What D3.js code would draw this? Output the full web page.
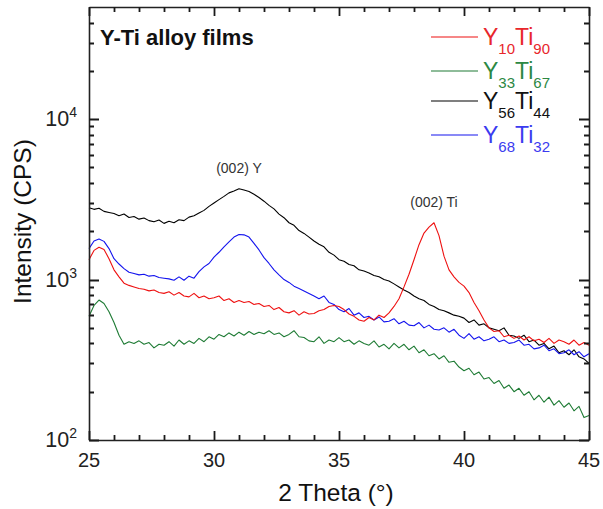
<!DOCTYPE html>
<html>
<head>
<meta charset="utf-8">
<script src="https://cdn.jsdelivr.net/npm/d3@7"></script>
<style>
  body { margin: 0; background: #fff; }
  svg { display: block; font-family: Arial, "Liberation Sans", sans-serif; }
  .axis path { stroke: #222; stroke-width: 1.6; }
</style>
</head>
<body>
<svg id="chart" width="603" height="509"></svg>
<script>
// scan angles, 0.2 deg step from 25 to 45
const twoTheta = d3.range(101).map(i => +(25 + i * 0.2).toFixed(1));

const y10ti90 = [
  1330, 1520, 1590, 1540, 1350, 1150, 1040, 950, 920, 900,
  880, 870, 850, 860, 830, 820, 840, 800, 830, 790,
  780, 820, 770, 790, 760, 770, 790, 740, 760, 720,
  740, 720, 730, 700, 710, 680, 690, 650, 670, 630,
  620, 640, 600, 630, 610, 615, 640, 650, 680, 690,
  680, 650, 610, 590, 560, 550, 580, 560, 600, 580,
  620, 680, 760, 900, 1080, 1330, 1650, 1950, 2120, 2260,
  1880, 1400, 1150, 1040, 960, 910, 830, 720, 640, 560,
  500, 475, 480, 440, 450, 430, 445, 420, 440, 415,
  425, 405, 430, 400, 420, 410, 395, 420, 390, 405,
  390
];

const y33ti67 = [
  590, 690, 745, 710, 630, 540, 450, 395, 410, 400,
  415, 395, 405, 375, 395, 390, 410, 385, 420, 395,
  415, 400, 430, 410, 440, 425, 455, 440, 465, 445,
  470, 450, 475, 455, 470, 460, 480, 455, 465, 440,
  455, 480, 440, 435, 415, 410, 440, 400, 420, 410,
  435, 410, 420, 395, 415, 400, 390, 415, 380, 395,
  370, 400, 375, 395, 365, 385, 350, 365, 335, 345,
  320, 335, 305, 310, 285, 270, 280, 255, 265, 240,
  245, 225, 235, 210, 220, 200, 210, 190, 200, 178,
  190, 172, 185, 165, 176, 160, 170, 152, 162, 138,
  142
];

const y56ti44 = [
  2800, 2740, 2780, 2660, 2620, 2580, 2500, 2560, 2440, 2470,
  2380, 2420, 2330, 2290, 2350, 2240, 2310, 2260, 2360, 2330,
  2450, 2500, 2600, 2700, 2860, 3000, 3150, 3300, 3470, 3560,
  3680, 3620, 3540, 3400, 3250, 3080, 2900, 2760, 2560, 2430,
  2260, 2180, 2020, 1940, 1840, 1740, 1660, 1600, 1480, 1420,
  1330, 1300, 1240, 1220, 1150, 1130, 1100, 1060, 1040, 1000,
  980, 940, 900, 860, 830, 790, 760, 740, 700, 680,
  650, 640, 620, 600, 590, 575, 540, 560, 520, 530,
  500, 490, 480, 500, 450, 445, 430, 450, 410, 420,
  390, 400, 370, 385, 350, 360, 340, 365, 330, 320,
  300
];

const y68ti32 = [
  1560, 1740, 1790, 1730, 1560, 1350, 1250, 1170, 1110, 1090,
  1070, 1080, 1050, 1060, 1030, 1020, 1010, 990, 1040, 990,
  1050, 1020, 1120, 1200, 1260, 1380, 1480, 1600, 1720, 1840,
  1910, 1900, 1840, 1680, 1530, 1370, 1260, 1150, 1070, 1000,
  960, 910, 880, 850, 820, 790, 760, 790, 720, 700,
  650, 630, 660, 600, 620, 580, 590, 560, 585, 545,
  550, 570, 530, 550, 520, 515, 540, 500, 520, 490,
  485, 500, 470, 490, 450, 430, 460, 425, 440, 415,
  425, 440, 410, 420, 400, 405, 420, 390, 395, 370,
  375, 390, 360, 370, 345, 350, 365, 340, 355, 330,
  345
];

const seriesNames = ["Y10Ti90", "Y33Ti67", "Y56Ti44", "Y68Ti32"];
const seriesColors = ["#ee1111", "#1e7b34", "#000000", "#1414ee"];
const legendTextColors = ["#e8262b", "#2c8843", "#111111", "#3b3bf0"];
const legendParts = [["10", "90"], ["33", "67"], ["56", "44"], ["68", "32"]];

const xMajor = [25, 30, 35, 40, 45];
const xMinor = d3.range(26, 45).filter(d => d % 5 !== 0);
const yMajor = [100, 1000, 10000];
const yExp = ["2", "3", "4"];
const yMinor = [200, 300, 400, 500, 600, 700, 800, 900,
  2000, 3000, 4000, 5000, 6000, 7000, 8000, 9000, 20000, 30000, 40000];

const peaks = [
  { label: "(002) Y", x: 31.0, y: 173 },
  { label: "(002) Ti", x: 38.8, y: 207 }
];

const plot = { left: 89, right: 589, top: 7, bottom: 440 };

const svg = d3.select("#chart");

const x = d3.scaleLinear().domain([25, 45]).range([plot.left, plot.right]);
const y = d3.scaleLog().domain([100, 50000]).range([plot.bottom, plot.top]);

// curves
const line = d3.line()
  .x((d, i) => x(twoTheta[i]))
  .y(d => y(d));

const allSeries = [y10ti90, y33ti67, y56ti44, y68ti32];
// draw order: black under, then others
[2, 1, 3, 0].forEach(k => {
  svg.append("path")
    .attr("d", line(allSeries[k]))
    .attr("fill", "none")
    .attr("stroke", seriesColors[k])
    .attr("stroke-width", 1.1)
    .attr("stroke-linejoin", "round");
});

// frame from d3 axes
svg.append("g").attr("class", "axis")
  .attr("transform", `translate(0,${plot.bottom})`)
  .call(d3.axisBottom(x).tickValues([]).tickSizeOuter(0));
svg.append("g").attr("class", "axis")
  .attr("transform", `translate(0,${plot.top})`)
  .call(d3.axisTop(x).tickValues([]).tickSizeOuter(0));
svg.append("g").attr("class", "axis")
  .attr("transform", `translate(${plot.left},0)`)
  .call(d3.axisLeft(y).tickValues([]).tickSizeOuter(0));
svg.append("g").attr("class", "axis")
  .attr("transform", `translate(${plot.right},0)`)
  .call(d3.axisRight(y).tickValues([]).tickSizeOuter(0));

// inward tick marks on all four sides, built as one path
const tp = d3.path();
function xTicks(vals, len) {
  vals.forEach(v => {
    const px = Math.round(x(v)) + 0.5;
    tp.moveTo(px, plot.bottom); tp.lineTo(px, plot.bottom - len);
    tp.moveTo(px, plot.top); tp.lineTo(px, plot.top + len);
  });
}
function yTicks(vals, len) {
  vals.forEach(v => {
    const py = Math.round(y(v)) + 0.5;
    tp.moveTo(plot.left, py); tp.lineTo(plot.left + len, py);
    tp.moveTo(plot.right, py); tp.lineTo(plot.right - len, py);
  });
}
xTicks(xMajor, 9);
xTicks(xMinor, 5);
yTicks(yMajor, 10);
yTicks(yMinor, 5);
svg.append("path")
  .attr("d", tp.toString())
  .attr("fill", "none")
  .attr("stroke", "#1a1a1a")
  .attr("stroke-width", 1.8);

// x tick labels
svg.selectAll(".xlab").data(xMajor).enter().append("text")
  .attr("x", d => x(d))
  .attr("y", 467)
  .attr("text-anchor", "middle")
  .attr("font-size", 20)
  .attr("fill", "#222")
  .text(d => d);

// y tick labels 10^n
yMajor.forEach((v, i) => {
  const t = svg.append("text")
    .attr("x", 77)
    .attr("y", y(v) + 7)
    .attr("text-anchor", "end")
    .attr("font-size", 21.5)
    .attr("fill", "#222");
  t.append("tspan").text("10");
  t.append("tspan").attr("dy", -9).attr("font-size", 14).text(yExp[i]);
});

// axis titles
svg.append("text")
  .attr("x", 336)
  .attr("y", 501)
  .attr("text-anchor", "middle")
  .attr("font-size", 24.5)
  .attr("fill", "#111")
  .text("2 Theta (°)");

svg.append("text")
  .attr("transform", "translate(31,221.5) rotate(-90)")
  .attr("text-anchor", "middle")
  .attr("font-size", 24.5)
  .attr("fill", "#111")
  .text("Intensity (CPS)");

// title
svg.append("text")
  .attr("x", 100)
  .attr("y", 45)
  .attr("font-size", 22)
  .attr("font-weight", "bold")
  .attr("fill", "#111")
  .text("Y-Ti alloy films");

// peak labels
svg.selectAll(".peak").data(peaks).enter().append("text")
  .attr("x", d => x(d.x))
  .attr("y", d => d.y)
  .attr("text-anchor", "middle")
  .attr("font-size", 14)
  .attr("fill", "#333")
  .text(d => d.label);

// legend
const legendY = [37, 71, 101, 135];
seriesNames.forEach((name, i) => {
  const g = svg.append("g").attr("transform", `translate(0,${legendY[i]})`);
  g.append("line")
    .attr("x1", 431).attr("x2", 478)
    .attr("y1", 0).attr("y2", 0)
    .attr("stroke", seriesColors[i])
    .attr("stroke-width", 1.2);
  const t = g.append("text")
    .attr("x", 483)
    .attr("y", 8)
    .attr("font-size", 23)
    .attr("fill", legendTextColors[i]);
  t.append("tspan").text("Y");
  t.append("tspan").attr("dy", 9).attr("font-size", 15).text(legendParts[i][0]);
  t.append("tspan").attr("dy", -9).text("Ti");
  t.append("tspan").attr("dy", 9).attr("font-size", 15).text(legendParts[i][1]);
});
</script>
</body>
</html>
